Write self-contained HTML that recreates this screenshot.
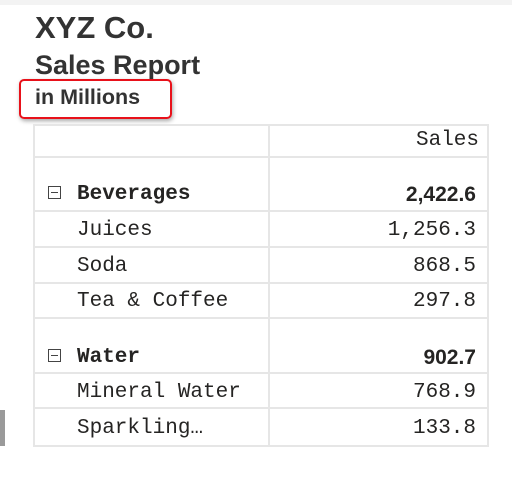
<!DOCTYPE html>
<html><head><meta charset="utf-8"><style>
body{margin:0;width:512px;height:493px;background:#fff;position:relative;overflow:hidden;font-family:"Liberation Sans",sans-serif;color:#252423}
.a{position:absolute}
.t{position:absolute;white-space:nowrap;line-height:1}
.m{font-family:"Liberation Mono",monospace;font-size:21px;color:#252423}
.r{text-align:right;right:36px}
.hl{position:absolute;left:33px;width:454px;height:0;border-top:2px solid #e6e6e6}
.box{position:absolute;width:11px;height:11px;border:1.5px solid #444}
.box:after{content:"";position:absolute;left:2px;right:2px;top:5px;border-top:1.5px solid #444}
</style></head><body>
<div class="a" style="left:0;top:0;width:512px;height:5px;background:#f3f3f3"></div>
<div class="a" style="left:0;top:410px;width:5px;height:36px;background:#9a9a9a"></div>
<div class="t" style="left:35px;top:12px;font-size:31px;font-weight:bold;color:#333">XYZ Co.</div>
<div class="t" style="left:35px;top:52px;font-size:27px;font-weight:bold;color:#333">Sales Report</div>
<div class="t" style="left:35px;top:87px;font-size:21.5px;font-weight:bold;color:#333">in Millions</div>
<div class="a" style="left:19px;top:79px;width:149px;height:36px;border:2.5px solid #e8111a;border-radius:5px;box-shadow:1px 2px 4px rgba(0,0,0,0.35)"></div>
<div class="a" style="left:33px;top:124px;width:452px;height:319px;border:2px solid #e6e6e6"></div>
<div class="a" style="left:268px;top:124px;width:2px;height:321px;background:#e6e6e6"></div>
<div class="hl" style="top:156px"></div>
<div class="hl" style="top:210px"></div>
<div class="hl" style="top:246px"></div>
<div class="hl" style="top:282px"></div>
<div class="hl" style="top:317px"></div>
<div class="hl" style="top:372px"></div>
<div class="hl" style="top:407px"></div>
<div class="t m r" style="top:130px;right:33px">Sales</div>

<div class="box" style="left:48px;top:186px"></div>
<div class="t m" style="left:77px;top:184px;font-weight:bold">Beverages</div>
<div class="t r" style="top:184px;font-size:21px;font-weight:bold">2,422.6</div>
<div class="t m" style="left:77px;top:220px">Juices</div>
<div class="t m r" style="top:220px">1,256.3</div>
<div class="t m" style="left:77px;top:256px">Soda</div>
<div class="t m r" style="top:256px">868.5</div>
<div class="t m" style="left:77px;top:291px">Tea &amp; Coffee</div>
<div class="t m r" style="top:291px">297.8</div>

<div class="box" style="left:48px;top:349px"></div>
<div class="t m" style="left:77px;top:347px;font-weight:bold">Water</div>
<div class="t r" style="top:347px;font-size:21px;font-weight:bold">902.7</div>
<div class="t m" style="left:77px;top:382px">Mineral Water</div>
<div class="t m r" style="top:382px">768.9</div>
<div class="t m" style="left:77px;top:418px">Sparkling…</div>
<div class="t m r" style="top:418px">133.8</div>
</body></html>
